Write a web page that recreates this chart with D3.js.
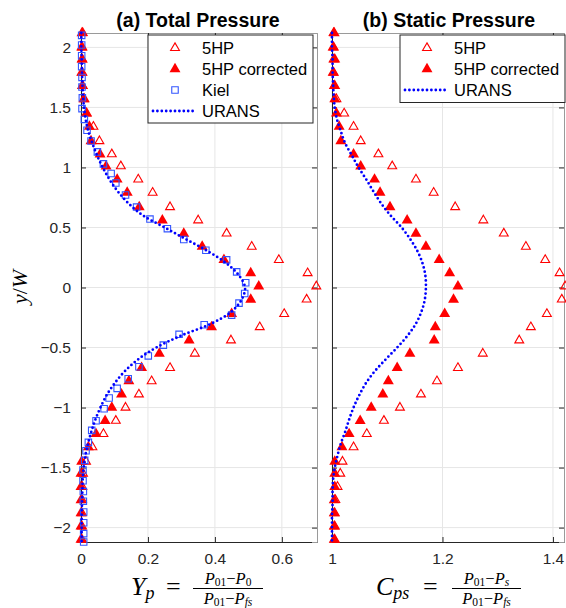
<!DOCTYPE html>
<html><head><meta charset="utf-8">
<script src="https://cdn.jsdelivr.net/npm/d3@7"></script>
<style>
html,body{margin:0;padding:0;background:#fff;}
svg{display:block;}
</style></head>
<body>
<svg id="c" width="566" height="608"></svg>
<script>
// ---- data ----
const yProbe = [2.12, 2.0, 1.9, 1.79, 1.68, 1.57, 1.45, 1.34, 1.22, 1.11, 1.01, 0.90, 0.79, 0.67, 0.56, 0.45, 0.34, 0.23, 0.12, 0.01, -0.1, -0.22, -0.33, -0.44, -0.55, -0.67, -0.78, -0.89, -1.0, -1.11, -1.22, -1.33, -1.45, -1.55, -1.66, -1.77, -1.88, -1.99, -2.1];
const hpTotal = [0.005, 0.004, 0.004, 0.004, 0.005, 0.008, 0.016, 0.037, 0.055, 0.092, 0.119, 0.171, 0.214, 0.266, 0.35, 0.435, 0.51, 0.591, 0.677, 0.703, 0.674, 0.607, 0.534, 0.448, 0.34, 0.266, 0.211, 0.173, 0.133, 0.104, 0.067, 0.034, 0.015, 0.006, 0.004, 0.003, 0.003, 0.003, 0.003];
const hpTotalCorr = [0.003, 0.002, 0.003, 0.002, 0.004, 0.01, 0.017, 0.025, 0.03, 0.057, 0.075, 0.108, 0.138, 0.174, 0.243, 0.307, 0.362, 0.427, 0.507, 0.531, 0.507, 0.45, 0.39, 0.323, 0.234, 0.181, 0.143, 0.121, 0.092, 0.072, 0.045, 0.022, 0.002, 0.0, 0.0, 0.0, 0.0, 0.0, 0.0];
const hpStatic = [1.003, 1.003, 1.003, 1.003, 1.004, 1.008, 1.022, 1.039, 1.052, 1.084, 1.109, 1.152, 1.184, 1.223, 1.274, 1.311, 1.351, 1.386, 1.412, 1.422, 1.416, 1.389, 1.36, 1.339, 1.273, 1.228, 1.19, 1.161, 1.123, 1.094, 1.063, 1.039, 1.019, 1.015, 1.01, 1.006, 1.005, 1.005, 1.005];
const hpStaticCorr = [1.004, 1.002, 1.005, 1.002, 1.005, 1.005, 1.008, 1.013, 1.016, 1.039, 1.052, 1.077, 1.087, 1.105, 1.136, 1.152, 1.17, 1.194, 1.213, 1.228, 1.22, 1.204, 1.187, 1.185, 1.141, 1.118, 1.102, 1.092, 1.071, 1.051, 1.031, 1.018, 1.005, 1.005, 1.005, 1.004, 1.004, 1.004, 1.004];
const yKiel = [2.1, 2.02, 1.93, 1.84, 1.75, 1.67, 1.58, 1.49, 1.40, 1.31, 1.22, 1.13, 1.03, 0.95, 0.87, 0.77, 0.67, 0.57, 0.49, 0.40, 0.31, 0.23, 0.13, 0.04, -0.05, -0.13, -0.23, -0.31, -0.39, -0.48, -0.57, -0.66, -0.76, -0.84, -0.92, -1.01, -1.11, -1.19, -1.29, -1.36, -1.44, -1.52, -1.61, -1.70, -1.78, -1.87, -1.96, -2.05, -2.12];
const kielTotal = [0.002, 0.002, 0.002, 0.002, 0.003, 0.003, 0.004, 0.003, 0.01, 0.018, 0.03, 0.049, 0.067, 0.09, 0.104, 0.133, 0.166, 0.206, 0.258, 0.307, 0.373, 0.435, 0.465, 0.492, 0.489, 0.472, 0.45, 0.368, 0.293, 0.246, 0.201, 0.173, 0.141, 0.108, 0.084, 0.069, 0.045, 0.032, 0.022, 0.015, 0.011, 0.006, 0.006, 0.007, 0.007, 0.008, 0.008, 0.008, 0.008];
const yUrans = [2.12, 2.0, 1.9, 1.8, 1.7, 1.6, 1.5, 1.4, 1.3, 1.2, 1.1, 1.0, 0.9, 0.8, 0.7, 0.6, 0.5, 0.4, 0.3, 0.2, 0.1, 0, -0.1, -0.2, -0.3, -0.4, -0.5, -0.6, -0.7, -0.8, -0.9, -1.0, -1.1, -1.2, -1.3, -1.4, -1.5, -1.6, -1.7, -1.8, -1.9, -2.0, -2.12];
const uransTotal = [0.001, 0.001, 0.002, 0.003, 0.004, 0.006, 0.009, 0.014, 0.022, 0.034, 0.048, 0.065, 0.085, 0.11, 0.142, 0.185, 0.25, 0.315, 0.38, 0.435, 0.472, 0.49, 0.48, 0.45, 0.39, 0.3, 0.225, 0.17, 0.13, 0.1, 0.076, 0.058, 0.043, 0.031, 0.021, 0.013, 0.008, 0.005, 0.004, 0.003, 0.002, 0.002, 0.002];
const uransStatic = [1.0, 1.0, 1.001, 1.001, 1.002, 1.003, 1.005, 1.009, 1.016, 1.024, 1.036, 1.048, 1.062, 1.075, 1.089, 1.106, 1.126, 1.142, 1.155, 1.164, 1.169, 1.17, 1.168, 1.162, 1.152, 1.137, 1.118, 1.097, 1.077, 1.061, 1.049, 1.039, 1.031, 1.024, 1.016, 1.01, 1.005, 1.002, 1.001, 1.001, 1.0, 1.0, 1.0];
const yTicks = [-2, -1.5, -1, -0.5, 0, 0.5, 1, 1.5, 2];
const xTicksA = [0, 0.2, 0.4, 0.6];
const xTicksB = [1, 1.2, 1.4];
const legendA = ["5HP", "5HP corrected", "Kiel", "URANS"];
const legendB = ["5HP", "5HP corrected", "URANS"];

// ---- drawing ----
const svg = d3.select("#c");
const RED = "#ff0000", BLUE = "#0000ff", KIEL = "#3355ff", AX = "#262626", GRID = "#e6e6e6";
const yTop = 33, yBot = 542;
const y = d3.scaleLinear().domain([-2.12, 2.12]).range([yBot, yTop]);
const xA = d3.scaleLinear().domain([0, 0.705]).range([81, 317]);
const xB = d3.scaleLinear().domain([1, 1.42]).range([332, 564]);

const triOpen = d3.symbol().type(d3.symbolTriangle).size(34)();
const triFill = d3.symbol().type(d3.symbolTriangle).size(52)();
const sq = d3.symbol().type(d3.symbolSquare).size(42)();

function panel(x, xticks, showY) {
  const g = svg.append("g");
  const [x0, x1] = x.range();
  g.selectAll(".gx").data(xticks).join("line")
    .attr("x1", d => x(d)).attr("x2", d => x(d)).attr("y1", yTop).attr("y2", yBot)
    .attr("stroke", GRID).attr("stroke-width", 1);
  g.selectAll(".gy").data(yTicks).join("line")
    .attr("x1", x0).attr("x2", x1).attr("y1", d => y(d)).attr("y2", d => y(d))
    .attr("stroke", GRID).attr("stroke-width", 1);
  const bx = g.append("g").attr("transform", `translate(0,${yBot})`)
    .call(d3.axisBottom(x).tickValues(xticks).tickSize(-5).tickPadding(11).tickFormat(d3.format("~g")));
  const tx = g.append("g").attr("transform", `translate(0,${yTop})`)
    .call(d3.axisTop(x).tickValues(xticks).tickSize(-5).tickFormat(""));
  const ly = g.append("g").attr("transform", `translate(${x0},0)`)
    .call(d3.axisLeft(y).tickValues(yTicks).tickSize(-5).tickPadding(10).tickFormat(showY ? d3.format("~g") : ""));
  const ry = g.append("g").attr("transform", `translate(${x1},0)`)
    .call(d3.axisRight(y).tickValues(yTicks).tickSize(-5).tickFormat(""));
  [bx, tx, ly, ry].forEach(a => {
    a.select(".domain").attr("stroke", AX).attr("stroke-width", 1);
    a.selectAll(".tick line").attr("stroke", AX);
    a.selectAll("text").attr("fill", AX).attr("font-family", "Liberation Sans, Arial, sans-serif").attr("font-size", 15.5);
  });
  tx.select(".domain").attr("stroke", "#9a9a9a");
  ry.select(".domain").attr("stroke", "#9a9a9a");
  return g;
}

const gA = panel(xA, xTicksA, true);
const gB = panel(xB, xTicksB, false);

const line = (x, xs, ys) => d3.line().x((d, i) => x(xs[i])).y(d => y(d)).curve(d3.curveCatmullRom)(ys);

function drawOpen(g, x, xs) {
  g.append("g").selectAll("path").data(yProbe).join("path")
    .attr("d", triOpen).attr("transform", (d, i) => `translate(${x(xs[i])},${y(d)})`)
    .attr("fill", "none").attr("stroke", RED).attr("stroke-width", 1.1);
}
function drawFill(g, x, xs) {
  g.append("g").selectAll("path").data(yProbe).join("path")
    .attr("d", triFill).attr("transform", (d, i) => `translate(${x(xs[i])},${y(d)})`)
    .attr("fill", RED);
}
function drawUrans(g, x, xs) {
  g.append("path").attr("d", line(x, xs, yUrans)).attr("fill", "none")
    .attr("stroke", BLUE).attr("stroke-width", 2.8).attr("stroke-linecap", "round")
    .attr("stroke-dasharray", "0 4.4");
}

drawOpen(gA, xA, hpTotal);
drawFill(gA, xA, hpTotalCorr);
gA.append("g").selectAll("path").data(yKiel).join("path")
  .attr("d", sq).attr("transform", (d, i) => `translate(${xA(kielTotal[i])},${y(d)})`)
  .attr("fill", "none").attr("stroke", KIEL).attr("stroke-width", 1.1);
drawUrans(gA, xA, uransTotal);

drawOpen(gB, xB, hpStatic);
drawFill(gB, xB, hpStaticCorr);
drawUrans(gB, xB, uransStatic);

const tfont = "Liberation Sans, Arial, sans-serif";
svg.append("text").attr("x", 198).attr("y", 27).attr("text-anchor", "middle")
  .attr("font-family", tfont).attr("font-weight", "bold").attr("font-size", 19.5).attr("fill", "#000").text("(a) Total Pressure");
svg.append("text").attr("x", 449).attr("y", 27).attr("text-anchor", "middle")
  .attr("font-family", tfont).attr("font-weight", "bold").attr("font-size", 19.5).attr("fill", "#000").text("(b) Static Pressure");

function legend(x0, w, items) {
  const g = svg.append("g");
  const h = items.length * 20.5 + 6;
  g.append("rect").attr("x", x0).attr("y", 35).attr("width", w).attr("height", h)
    .attr("fill", "#fff").attr("stroke", AX).attr("stroke-width", 1);
  items.forEach((name, i) => {
    const cy = 48 + i * 21;
    const mx = x0 + 27;
    if (name === "5HP") g.append("path").attr("d", triOpen).attr("transform", `translate(${mx},${cy})`).attr("fill", "none").attr("stroke", RED).attr("stroke-width", 1.1);
    if (name === "5HP corrected") g.append("path").attr("d", triFill).attr("transform", `translate(${mx},${cy})`).attr("fill", RED);
    if (name === "Kiel") g.append("path").attr("d", sq).attr("transform", `translate(${mx},${cy})`).attr("fill", "none").attr("stroke", KIEL).attr("stroke-width", 1.1);
    if (name === "URANS") g.append("line").attr("x1", x0 + 5).attr("x2", x0 + 49).attr("y1", cy).attr("y2", cy)
      .attr("stroke", BLUE).attr("stroke-width", 2.8).attr("stroke-linecap", "round").attr("stroke-dasharray", "0 4.4");
    g.append("text").attr("x", x0 + 54).attr("y", cy + 6).attr("font-family", tfont).attr("font-size", 16.5).attr("fill", "#000").text(name);
  });
}
legend(148, 165, legendA);
legend(400, 165, legendB);

const serif = "Liberation Serif, Times New Roman, serif";
const yl = svg.append("text").attr("transform", "translate(27,287) rotate(-90)").attr("text-anchor", "middle")
  .attr("font-family", serif).attr("font-size", 22).attr("fill", "#000");
yl.append("tspan").attr("font-style", "italic").text("y");
yl.append("tspan").text("/");
yl.append("tspan").attr("font-style", "italic").text("W");

function mathLabel(lhsX, lhsMain, lhsSub, eqX, fx0, fx1, numParts, denParts) {
  const g = svg.append("g").attr("font-family", serif).attr("fill", "#000");
  const t = g.append("text").attr("x", lhsX).attr("y", 595).attr("font-size", 26);
  t.append("tspan").attr("font-style", "italic").text(lhsMain);
  t.append("tspan").attr("font-style", "italic").attr("font-size", 18).attr("dy", 4).text(lhsSub);
  g.append("text").attr("x", eqX).attr("y", 595).attr("font-size", 26).text("=");
  const cx = (fx0 + fx1) / 2;
  g.append("line").attr("x1", fx0).attr("x2", fx1).attr("y1", 588.5).attr("y2", 588.5).attr("stroke", "#000").attr("stroke-width", 1);
  function frac(parts, base) {
    const tt = g.append("text").attr("x", cx).attr("y", base).attr("text-anchor", "middle").attr("font-size", 16.5);
    let sub = false;
    parts.forEach(([s, kind]) => {
      const sp = tt.append("tspan").text(s);
      if (kind === "i") sp.attr("font-style", "italic");
      if (kind === "s" || kind === "si") {
        sp.attr("font-size", 11.5).attr("dy", sub ? 0 : 2);
        if (kind === "si") sp.attr("font-style", "italic");
        sub = true;
      } else {
        if (sub) sp.attr("dy", -2);
        sub = false;
      }
    });
  }
  frac(numParts, 583.5);
  frac(denParts, 603.5);
}
mathLabel(131, "Y", "p", 166, 193, 263,
  [["P", "i"], ["01", "s"], ["\u2212", "n"], ["P", "i"], ["0", "s"]],
  [["P", "i"], ["01", "s"], ["\u2212", "n"], ["P", "i"], ["fs", "si"]]);
mathLabel(376, "C", "ps", 423, 452, 521,
  [["P", "i"], ["01", "s"], ["\u2212", "n"], ["P", "i"], ["s", "si"]],
  [["P", "i"], ["01", "s"], ["\u2212", "n"], ["P", "i"], ["fs", "si"]]);
</script>
</body></html>
